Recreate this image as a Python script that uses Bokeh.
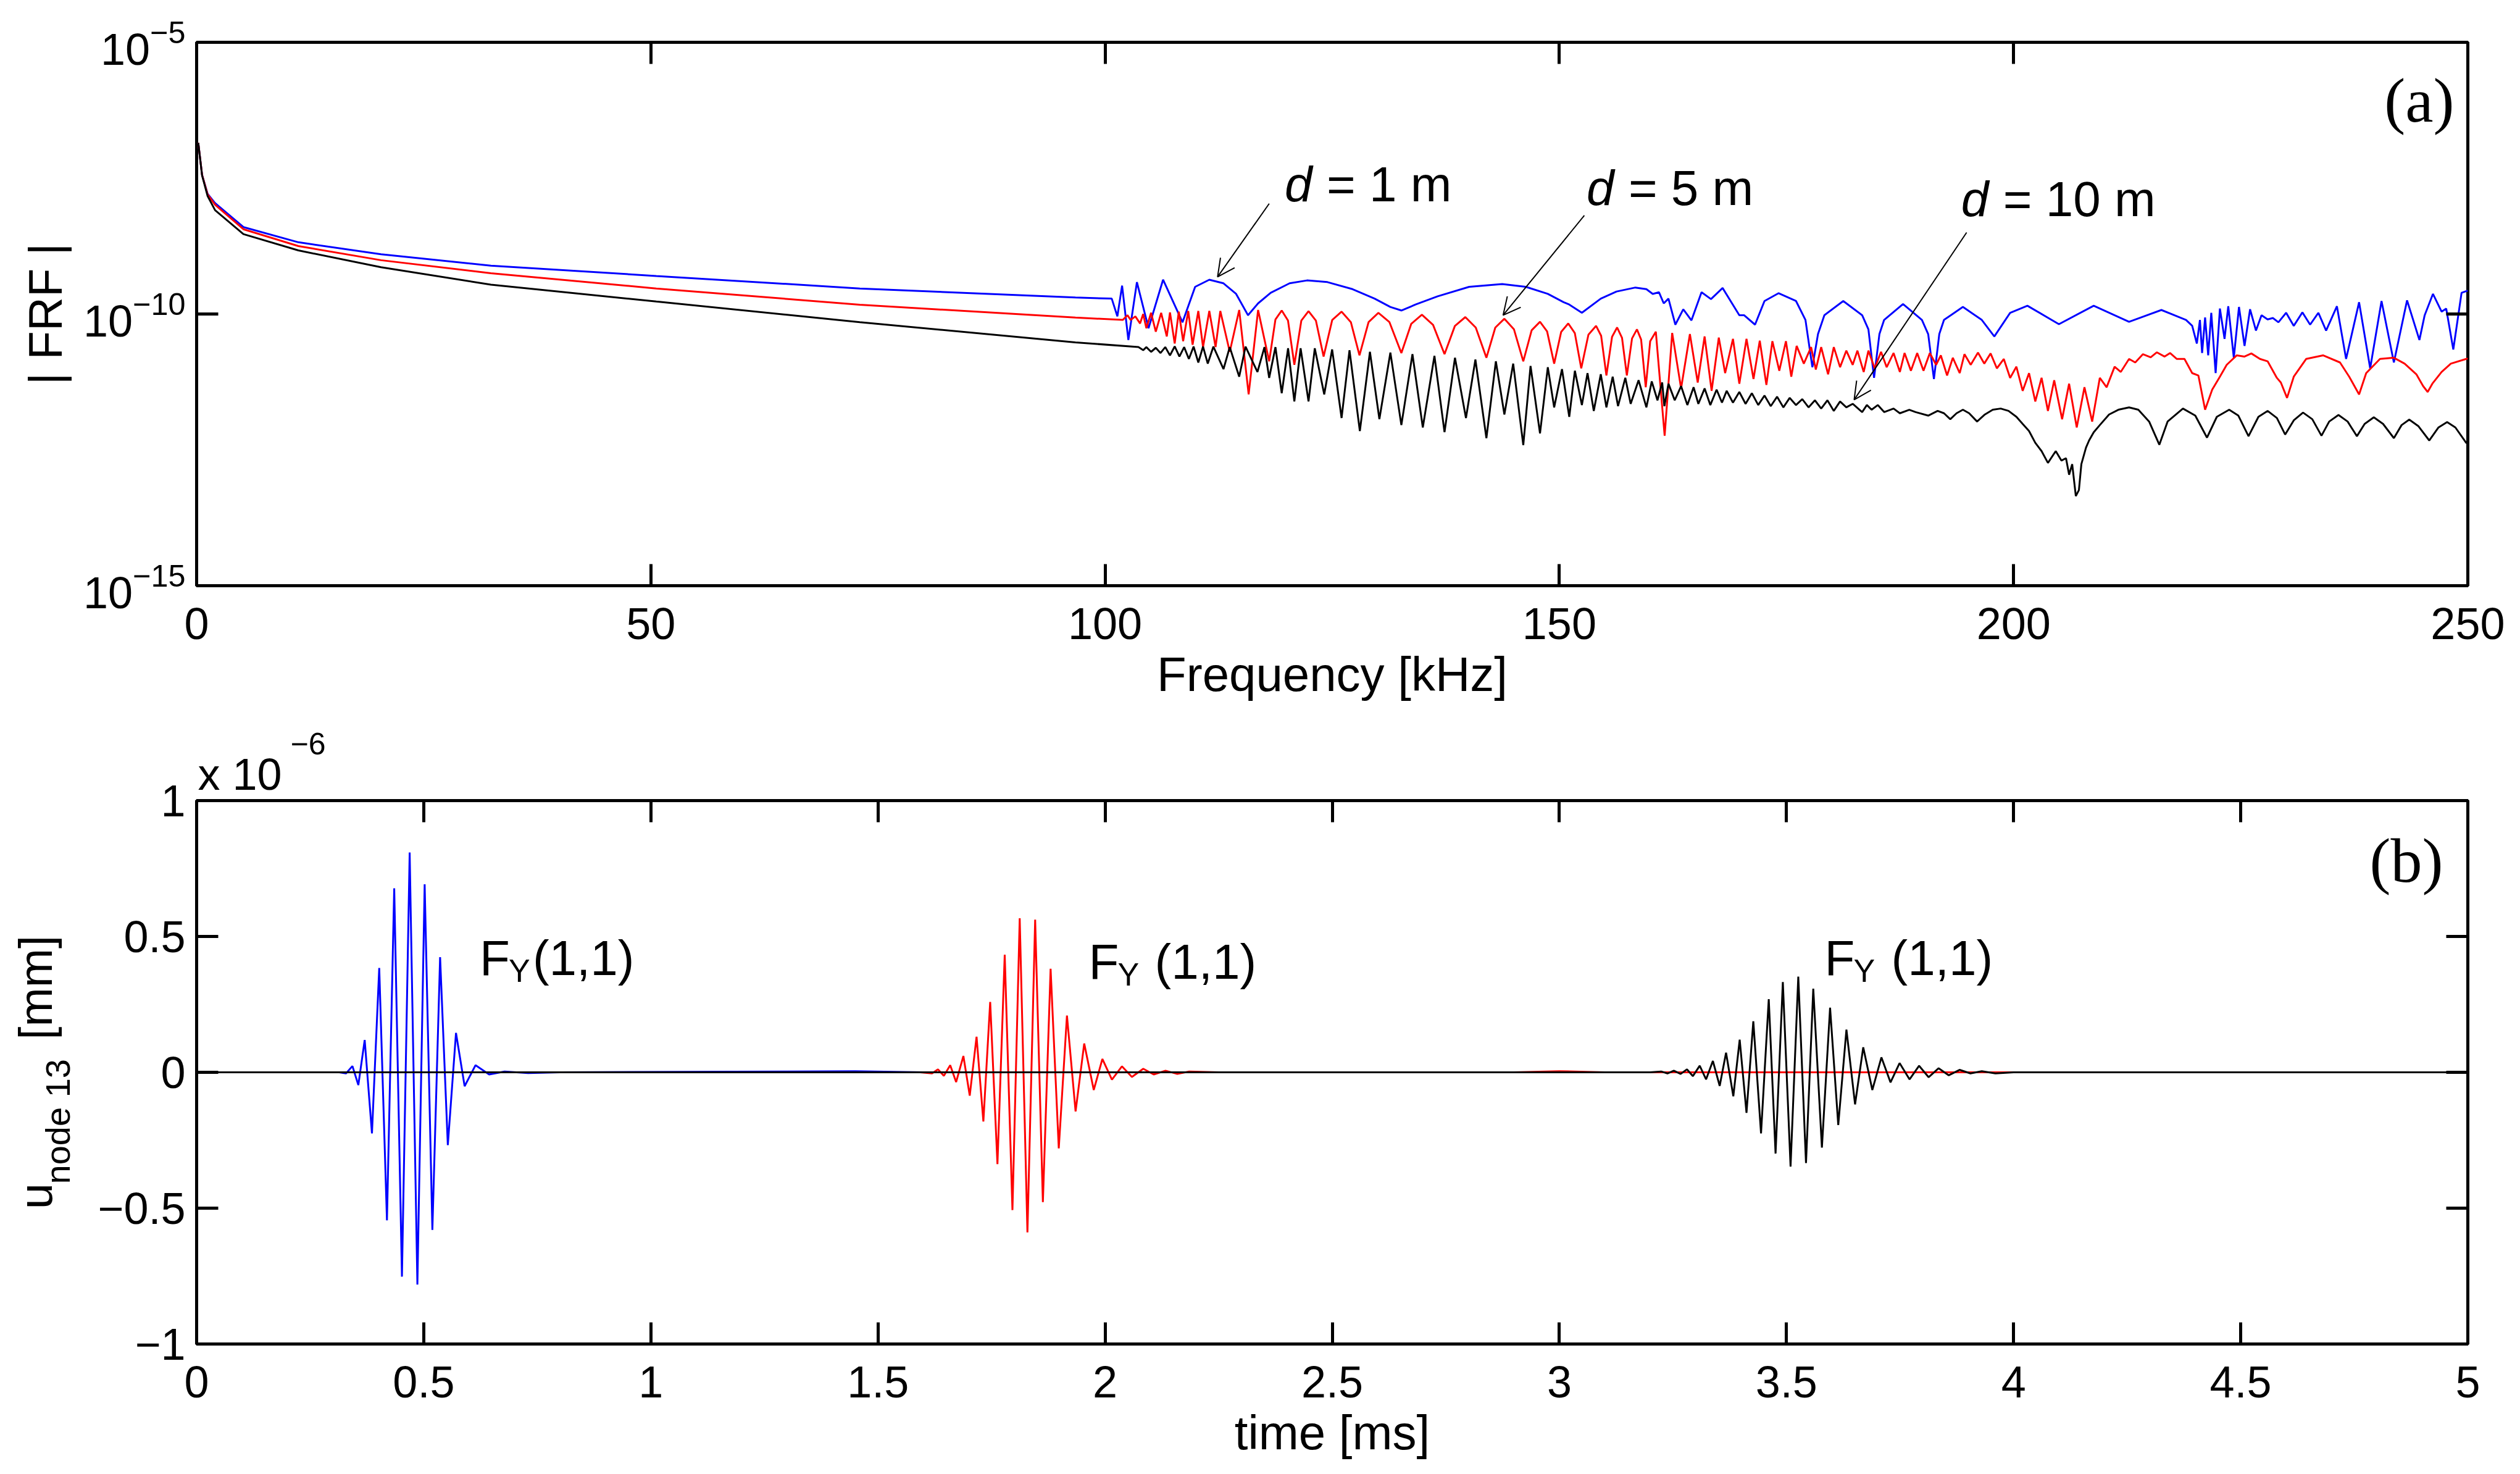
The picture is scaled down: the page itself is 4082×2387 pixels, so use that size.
import math

from bokeh.models import (Range1d, FixedTicker, LogAxis, LinearAxis, Label, Arrow, Title,
                          OpenHead, CustomJSTickFormatter, ColumnDataSource)
from bokeh.plotting import figure
from bokeh.layouts import column
from bokeh.embed import file_html
from bokeh.resources import INLINE

# ---------------- data ----------------
# (a) |FRF| vs frequency [kHz]; magnitudes stored as log10 values
blue_f = [0.18, 0.6, 1.21, 2.03, 5.15, 11.2, 20.3, 32.4, 50.6, 73.0, 96.74, 100.73,
          101.35, 101.87, 102.56, 103.50, 104.78, 106.38, 108.52, 109.91, 111.47, 113.03,
          114.42, 115.73, 116.84, 118.23, 120.31, 122.22, 124.47, 127.24, 129.67, 131.4,
          132.61, 134.17, 136.6, 140.07, 143.71, 146.31, 148.73, 150.47, 151.09, 152.48,
          154.56, 156.29, 158.37, 159.58, 160.28, 160.97, 161.49, 162.01, 162.77, 163.64,
          164.54, 165.65, 166.69, 167.97, 169.81, 170.33, 171.54, 172.58, 174.14, 176.05,
          177.09, 177.85, 178.47, 179.17, 181.25, 183.33, 184.02, 184.64, 185.23, 185.75,
          187.83, 189.91, 190.6, 191.23, 191.82, 192.34, 194.42, 196.50, 197.88, 199.62,
          201.52, 204.99, 208.82, 212.71, 216.27, 218.98, 219.66, 220.17, 220.51, 220.75,
          221.08, 221.42, 221.76, 222.24, 222.71, 223.22, 223.63, 224.24, 224.81, 225.42,
          226.03, 226.68, 227.29, 227.96, 228.54, 229.15, 230.00, 230.84, 231.79, 232.64,
          233.55, 234.40, 235.59, 236.60, 238.03, 239.25, 240.50, 241.86, 243.31, 244.67,
          245.25, 246.16, 247.11, 247.62, 248.40, 249.31, 250.0]
blue_log = [-6.85, -7.44, -7.79, -7.96, -8.40, -8.68, -8.90, -9.11, -9.30, -9.53, -9.696,
            -9.717, -10.044, -9.478, -10.479, -9.413, -10.261, -9.369, -10.152, -9.500,
            -9.369, -9.435, -9.630, -10.022, -9.804, -9.609, -9.435, -9.382, -9.413, -9.543,
            -9.717, -9.870, -9.935, -9.826, -9.674, -9.500, -9.448, -9.500, -9.630, -9.783,
            -9.826, -9.978, -9.717, -9.587, -9.513, -9.543, -9.630, -9.600, -9.804, -9.717,
            -10.196, -9.913, -10.117, -9.600, -9.726, -9.521, -10.022, -10.022, -10.196,
            -9.761, -9.617, -9.761, -10.109, -10.979, -10.37, -10.022, -9.761, -10.022,
            -10.283, -11.175, -10.37, -10.109, -9.817, -10.109, -10.37, -11.196, -10.37,
            -10.109, -9.870, -10.109, -10.413, -9.978, -9.848, -10.187, -9.848, -10.144,
            -9.926, -10.109, -10.218, -10.544, -10.109, -10.718, -10.065, -10.761, -9.978,
            -11.088, -9.900, -10.457, -9.857, -10.805, -9.870, -10.587, -9.913, -10.305,
            -10.022, -10.100, -10.074, -10.152, -9.978, -10.218, -9.970, -10.196, -9.978,
            -10.305, -9.857, -10.827, -9.783, -11.000, -9.761, -10.892, -9.748, -10.479,
            -10.022, -9.630, -9.957, -9.900, -10.653, -9.609, -9.57]

red_f = [0.18, 0.6, 1.21, 2.03, 5.15, 11.2, 20.3, 32.4, 50.6, 73.0, 96.74, 101.94, 102.46,
         102.81, 103.33, 103.85, 104.19, 104.54, 105.06, 105.58, 106.17, 106.79, 107.14,
         107.66, 108.11, 108.59, 109.15, 109.63, 110.26, 110.78, 111.47, 112.16, 112.68,
         113.72, 114.76, 115.80, 116.84, 118.06, 118.75, 119.44, 120.13, 120.83, 121.6,
         122.39, 123.2, 124.05, 125.0, 126.03, 127.05, 128.00, 129.0, 130.08, 131.3,
         132.61, 133.7, 134.87, 136.1, 137.36, 138.5, 139.65, 140.8, 141.97, 142.95,
         143.95, 145.0, 146.03, 146.95, 147.87, 148.65, 149.43, 150.2, 150.98, 151.7,
         152.41, 153.2, 154.04, 154.6, 155.18, 155.8, 156.36, 156.9, 157.43, 158.0,
         158.54, 159.0, 159.51, 160.0, 160.62, 161.59, 162.42, 163.40, 164.37, 165.23,
         165.99, 166.76, 167.55, 168.25, 169.11, 169.81, 170.60, 171.37, 172.06, 172.79,
         173.45, 174.21, 174.94, 175.53, 176.12, 176.91, 177.71, 178.23, 178.82, 179.58,
         180.21, 180.90, 181.59, 182.29, 182.81, 183.50, 184.02, 184.71, 185.41, 186.03,
         186.79, 187.48, 188.00, 188.70, 189.39, 190.08, 190.78, 191.47, 191.99, 192.68,
         193.31, 194.07, 194.59, 195.28, 196.08, 196.77, 197.47, 198.16, 198.92, 199.62,
         200.31, 201.00, 201.70, 202.39, 203.08, 203.78, 204.47, 205.34, 206.11, 206.95,
         207.80, 208.65, 209.49, 210.24, 211.12, 211.80, 212.71, 213.39, 214.24, 215.09,
         215.76, 216.61, 217.22, 217.97, 218.81, 219.66, 220.34, 221.08, 221.86, 222.71,
         223.46, 224.57, 225.42, 226.17, 227.12, 227.96, 228.98, 229.42, 230.10, 230.84,
         232.20, 234.06, 235.93, 236.94, 238.03, 238.81, 240.33, 241.86, 243.04, 244.33,
         245.08, 245.58, 246.09, 247.11, 248.13, 249.82, 250.0]
red_log = [-6.85, -7.44, -7.80, -7.99, -8.44, -8.75, -9.01, -9.25, -9.53, -9.83, -10.065,
           -10.109, -10.022, -10.109, -10.044, -10.174, -10.000, -10.261, -9.978, -10.326,
           -9.978, -10.413, -9.970, -10.544, -9.957, -10.500, -9.944, -10.566, -9.944,
           -10.609, -9.944, -10.609, -9.944, -10.696, -9.926, -11.479, -9.926, -10.870,
           -10.10, -9.935, -10.12, -10.935, -10.12, -9.948, -10.12, -10.783, -10.11, -9.957,
           -10.15, -10.761, -10.15, -9.978, -10.15, -10.718, -10.18, -10.013, -10.20,
           -10.739, -10.22, -10.057, -10.25, -10.805, -10.25, -10.087, -10.28, -10.870,
           -10.30, -10.144, -10.32, -10.913, -10.33, -10.174, -10.35, -11.000, -10.38,
           -10.218, -10.40, -11.131, -10.42, -10.248, -10.44, -11.131, -10.45, -10.283,
           -10.47, -11.348, -10.50, -10.326, -12.240, -10.348, -11.370, -10.370, -11.262,
           -10.413, -11.414, -10.435, -11.088, -10.457, -11.283, -10.457, -11.196, -10.492,
           -11.305, -10.500, -11.044, -10.500, -11.153, -10.587, -10.913, -10.609, -11.022,
           -10.609, -11.109, -10.609, -10.979, -10.674, -10.935, -10.674, -11.066, -10.674,
           -11.000, -10.696, -10.979, -10.718, -11.066, -10.718, -11.044, -10.718, -11.044,
           -10.718, -10.935, -10.761, -11.131, -10.805, -11.088, -10.739, -10.935, -10.709,
           -10.913, -10.726, -11.000, -10.827, -11.175, -10.970, -11.414, -11.088, -11.609,
           -11.175, -11.783, -11.218, -11.936, -11.283, -12.088, -11.348, -11.979, -11.175,
           -11.348, -10.970, -11.066, -10.827, -10.892, -10.739, -10.796, -10.705, -10.783,
           -10.718, -10.827, -10.827, -11.088, -11.131, -11.762, -11.392, -11.153, -10.935,
           -10.761, -10.783, -10.726, -10.827, -10.870, -11.175, -11.262, -11.544, -11.153,
           -10.827, -10.761, -10.892, -11.153, -11.479, -11.088, -10.827, -10.805, -10.913,
           -11.109, -11.327, -11.435, -11.283, -11.066, -10.913, -10.827, -10.82]

black_f = [0.18, 0.6, 1.21, 2.03, 5.15, 11.2, 20.3, 32.4, 50.6, 73.0, 96.74, 103.67, 104.19,
           104.54, 105.06, 105.58, 106.10, 106.62, 107.14, 107.66, 108.18, 108.70, 109.22,
           109.74, 110.26, 110.78, 111.30, 111.92, 113.03, 113.72, 114.76, 115.46, 116.77,
           117.54, 118.06, 118.75, 119.44, 120.14, 120.83, 121.52, 122.39, 123.08, 124.12,
           124.99, 126.03, 126.90, 128.04, 129.15, 130.19, 131.40, 132.61, 133.83, 134.97,
           136.25, 137.36, 138.51, 139.72, 140.76, 141.97, 143.01, 143.95, 144.92, 146.03,
           146.83, 147.87, 148.73, 149.43, 150.29, 151.09, 151.71, 152.48, 153.10, 153.79,
           154.56, 155.18, 155.87, 156.46, 157.26, 157.85, 158.72, 159.58, 160.17, 160.80,
           161.32, 161.56, 162.01, 162.70, 163.40, 164.09, 164.78, 165.30, 165.99, 166.62,
           167.31, 167.90, 168.42, 169.11, 169.81, 170.50, 171.19, 171.89, 172.58, 173.27,
           173.97, 174.66, 175.35, 176.05, 176.74, 177.43, 178.13, 178.82, 179.51, 180.21,
           180.90, 181.59, 182.29, 183.33, 183.85, 184.37, 185.06, 185.75, 186.79, 187.48,
           188.52, 189.22, 190.60, 191.64, 192.34, 193.03, 193.72, 194.42, 195.11, 195.98,
           196.84, 197.71, 198.58, 199.44, 200.31, 201.00, 201.70, 202.39, 203.08, 203.78,
           204.64, 205.26, 205.77, 206.11, 206.45, 206.85, 207.19, 207.46, 207.97, 208.31,
           208.82, 209.49, 210.51, 211.53, 212.71, 213.73, 214.92, 216.04, 216.95, 218.64,
           220.00, 221.29, 222.37, 223.73, 224.74, 225.86, 226.95, 227.96, 228.98, 229.89,
           230.84, 231.86, 232.88, 233.89, 234.74, 235.76, 236.77, 237.79, 238.64, 239.65,
           240.67, 241.86, 242.71, 243.55, 244.57, 245.75, 246.77, 247.72, 248.63, 249.82,
           250.0]
black_log = [-6.85, -7.45, -7.83, -8.09, -8.53, -8.83, -9.14, -9.46, -9.77, -10.15, -10.522,
             -10.609, -10.666, -10.609, -10.696, -10.622, -10.718, -10.609, -10.761, -10.596,
             -10.783, -10.609, -10.827, -10.600, -10.892, -10.600, -10.913, -10.600, -11.014,
             -10.609, -11.153, -10.600, -11.066, -10.609, -11.175, -10.609, -11.457, -10.631,
             -11.609, -10.631, -11.609, -10.631, -11.479, -10.652, -11.914, -10.666, -12.153,
             -10.696, -11.935, -10.709, -12.044, -10.739, -12.088, -10.770, -12.175, -10.805,
             -11.914, -10.839, -12.284, -10.870, -11.849, -10.913, -12.414, -10.957, -12.197,
             -10.979, -11.718, -11.014, -11.892, -11.044, -11.675, -11.088, -11.783, -11.109,
             -11.718, -11.153, -11.696, -11.175, -11.653, -11.218, -11.718, -11.240, -11.588,
             -11.261, -11.696, -11.283, -11.588, -11.327, -11.675, -11.348, -11.653, -11.370,
             -11.675, -11.392, -11.631, -11.414, -11.631, -11.435, -11.653, -11.457, -11.675,
             -11.501, -11.696, -11.522, -11.718, -11.544, -11.675, -11.566, -11.718, -11.588,
             -11.740, -11.588, -11.783, -11.609, -11.718, -11.653, -11.805, -11.675, -11.762,
             -11.675, -11.805, -11.740, -11.827, -11.762, -11.805, -11.870, -11.783, -11.827,
             -11.936, -11.827, -11.762, -11.827, -11.979, -11.849, -11.762, -11.740, -11.783,
             -11.892, -12.023, -12.153, -12.371, -12.523, -12.740, -12.523, -12.697, -12.653,
             -12.958, -12.762, -13.349, -13.240, -12.762, -12.458, -12.327, -12.175, -12.044,
             -11.849, -11.762, -11.718, -11.762, -11.979, -12.405, -11.979, -11.740, -11.870,
             -12.275, -11.892, -11.762, -11.870, -12.249, -11.892, -11.783, -11.914, -12.218,
             -11.957, -11.814, -11.936, -12.240, -11.979, -11.857, -11.979, -12.249, -12.023,
             -11.901, -12.023, -12.284, -12.044, -11.944, -12.066, -12.327, -12.088, -11.988,
             -12.088, -12.371, -12.38]

# (b) displacement vs time [ms], values in units of 1e-6 mm
blue_t = [0.0, 0.314, 0.329, 0.343, 0.356, 0.370, 0.386, 0.402, 0.419, 0.435, 0.452,
          0.469, 0.486, 0.502, 0.519, 0.536, 0.553, 0.571, 0.590, 0.614, 0.644, 0.678,
          0.730, 0.800, 1.300, 1.450, 1.600, 5.0]
blue_u = [0.0, 0.0, -0.004, 0.023, -0.047, 0.119, -0.225, 0.384, -0.545, 0.677, -0.752,
          0.809, -0.781, 0.692, -0.580, 0.424, -0.268, 0.145, -0.051, 0.026, -0.008,
          0.003, -0.003, 0.0, 0.003, 0.004, 0.0, 0.0]

red_t = [0.0, 1.593, 1.619, 1.632, 1.645, 1.659, 1.672, 1.688, 1.702, 1.717, 1.732, 1.747,
         1.763, 1.779, 1.796, 1.812, 1.829, 1.846, 1.863, 1.880, 1.898, 1.916, 1.935,
         1.954, 1.975, 1.994, 2.015, 2.037, 2.059, 2.084, 2.107, 2.133, 2.159, 2.185,
         2.250, 2.900, 3.000, 3.100, 5.0]
red_u = [0.0, 0.0, -0.004, 0.011, -0.013, 0.026, -0.036, 0.060, -0.086, 0.131, -0.181,
         0.259, -0.338, 0.433, -0.507, 0.567, -0.589, 0.562, -0.478, 0.381, -0.280,
         0.209, -0.144, 0.106, -0.065, 0.049, -0.027, 0.022, -0.017, 0.013, -0.008,
         0.006, -0.006, 0.003, 0.0, 0.0, 0.004, 0.0, 0.0]

black_t = [0.0, 3.200, 3.224, 3.238, 3.252, 3.267, 3.281, 3.294, 3.309, 3.323, 3.338,
           3.353, 3.367, 3.383, 3.397, 3.412, 3.427, 3.444, 3.461, 3.476, 3.492, 3.509,
           3.526, 3.543, 3.559, 3.578, 3.596, 3.614, 3.632, 3.651, 3.669, 3.689, 3.709,
           3.729, 3.749, 3.771, 3.792, 3.813, 3.835, 3.857, 3.881, 3.905, 3.930, 3.960,
           4.000, 5.0]
black_u = [0.0, 0.0, 0.003, -0.004, 0.006, -0.006, 0.011, -0.014, 0.024, -0.026, 0.042,
           -0.050, 0.072, -0.088, 0.120, -0.149, 0.188, -0.225, 0.269, -0.299, 0.332,
           -0.347, 0.352, -0.334, 0.308, -0.277, 0.238, -0.194, 0.157, -0.118, 0.092,
           -0.065, 0.055, -0.037, 0.034, -0.026, 0.024, -0.018, 0.015, -0.011, 0.009,
           -0.004, 0.004, -0.004, 0.0, 0.0]

# annotations
d_texts = ["= 1 m", "= 5 m", "= 10 m"]
d_text_f = [119.77, 152.99, 194.23]
d_text_log = [-7.886, -7.955, -8.159]
arrow_tail_f = [118.06, 152.75, 194.83]
arrow_tail_log = [-7.969, -8.186, -8.50]
arrow_head_f = [112.38, 143.81, 182.45]
arrow_head_log = [-9.317, -10.022, -11.578]

fy_t = [0.623, 1.964, 3.584]
fy_u = [0.365, 0.352, 0.365]
fy_paren_gap = [86, 107, 108]

freq_ticks = [0, 50, 100, 150, 200, 250]
frf_ticks = [1e-15, 1e-10, 1e-5]
time_ticks = [0, 0.5, 1, 1.5, 2, 2.5, 3, 3.5, 4, 4.5, 5]
u_ticks = [-1, -0.5, 0, 0.5, 1]

FONT = "Liberation Sans"
SERIF = "Liberation Serif"
NBSP = "\u00a0"

num_fmt = CustomJSTickFormatter(code="return String(tick).replace('-', '\u2212')")
no_fmt = CustomJSTickFormatter(code="return ''")


def style_axis(ax, show_labels):
    ax.axis_line_color = None
    ax.major_tick_in = 35
    ax.major_tick_out = 0
    ax.major_tick_line_width = 5
    ax.major_tick_line_color = "black"
    ax.minor_tick_line_color = None
    ax.major_label_text_font = FONT
    ax.major_label_text_color = "black"
    ax.axis_label_text_font = FONT
    ax.axis_label_text_font_style = "normal"
    ax.axis_label_text_color = "black"
    if show_labels:
        ax.major_label_text_font_size = "72px"
    else:
        ax.formatter = no_fmt
        ax.major_label_text_font_size = "2px"
        ax.major_label_standoff = 0


def side_title(text, size, **kw):
    return Title(text=text, text_font=FONT, text_font_size=size, text_font_style="normal",
                 text_color="black", **kw)


def lbl(p, x, y, text, size, **kw):
    # labels inside the frame; alphabetic baseline lifted by ~0.3 em
    kw.setdefault("text_font", FONT)
    px = float(size.replace("px", ""))
    kw["y_offset"] = kw.get("y_offset", 0) + 0.3 * px
    p.add_layout(Label(x=x, y=y, text=text, text_font_size=size, text_color="black",
                       text_baseline="alphabetic", **kw))


# ---------------- (a) FRF ----------------
p1 = figure(width=4057, height=1148, y_axis_type="log",
            x_range=Range1d(0, 250), y_range=Range1d(1e-15, 1e-5),
            output_backend="svg", toolbar_location=None,
            min_border_left=318, min_border_right=60, min_border_top=68,
            min_border_bottom=200)
p1.xgrid.visible = False
p1.ygrid.visible = False
p1.outline_line_color = "black"
p1.outline_line_width = 5
p1.background_fill_color = "white"
p1.border_fill_color = "white"

p1.xaxis.ticker = FixedTicker(ticks=freq_ticks)
p1.xaxis.formatter = num_fmt
p1.xaxis.major_label_standoff = 36
style_axis(p1.xaxis[0], True)
p1.xaxis.axis_label = "Frequency [kHz]"
p1.xaxis.axis_label_text_font_size = "78px"
p1.xaxis.axis_label_standoff = 10

p1.yaxis.ticker = FixedTicker(ticks=frf_ticks)
style_axis(p1.yaxis[0], True)
p1.yaxis.major_label_standoff = 18
p1.yaxis.axis_label = "| FRF |"
p1.yaxis.axis_label_text_font_size = "76px"
p1.yaxis.axis_label_standoff = 16

top1 = LinearAxis(ticker=FixedTicker(ticks=freq_ticks))
style_axis(top1, False)
p1.add_layout(top1, "above")
right1 = LogAxis(ticker=FixedTicker(ticks=frf_ticks))
style_axis(right1, False)
p1.add_layout(right1, "right")

for f, lg, c in [(blue_f, blue_log, "#0000ff"), (red_f, red_log, "#ff0000"),
                 (black_f, black_log, "black")]:
    src = ColumnDataSource(dict(f=f, v=[10 ** v for v in lg]))
    p1.line("f", "v", source=src, line_color=c, line_width=3)

lbl(p1, 250, 1e-5, "(a)", "102px", x_offset=-22, y_offset=-125, text_align="right",
    text_font=SERIF)

for txt, tf, tl in zip(d_texts, d_text_f, d_text_log):
    lbl(p1, tf, 10 ** tl, "d", "80px", text_font_style="italic")
    lbl(p1, tf, 10 ** tl, txt, "80px", x_offset=68)

for xs, ys, xe, ye in zip(arrow_tail_f, arrow_tail_log, arrow_head_f, arrow_head_log):
    p1.add_layout(Arrow(end=OpenHead(size=28, line_width=2, line_color="black"),
                        x_start=xs, y_start=10 ** ys, x_end=xe, y_end=10 ** ye,
                        line_width=2, line_color="black"))

# ---------------- (b) time signals ----------------
p2 = figure(width=4057, height=1221,
            x_range=Range1d(0, 5), y_range=Range1d(-1, 1),
            output_backend="svg", toolbar_location=None,
            min_border_left=318, min_border_right=60, min_border_top=148,
            min_border_bottom=193)
p2.xgrid.visible = False
p2.ygrid.visible = False
p2.outline_line_color = "black"
p2.outline_line_width = 5
p2.background_fill_color = "white"
p2.border_fill_color = "white"
p2.title.visible = False

p2.xaxis.ticker = FixedTicker(ticks=time_ticks)
p2.xaxis.formatter = num_fmt
p2.xaxis.major_label_standoff = 36
style_axis(p2.xaxis[0], True)
p2.xaxis.axis_label = "time [ms]"
p2.xaxis.axis_label_text_font_size = "78px"
p2.xaxis.axis_label_standoff = 10

p2.yaxis.ticker = FixedTicker(ticks=u_ticks)
p2.yaxis.formatter = num_fmt
style_axis(p2.yaxis[0], True)
p2.yaxis.major_label_standoff = 18

# y label: subscript "node 13" next to the tick labels, then "u ... [mm]" outside it
p2.add_layout(side_title("node 13", "56px", align="left", offset=259, standoff=62), "left")
p2.add_layout(side_title("u" + NBSP * 11 + "[mm]", "76px", align="center",
                         standoff=-142), "left")

top2 = LinearAxis(ticker=FixedTicker(ticks=time_ticks))
style_axis(top2, False)
p2.add_layout(top2, "above")
# axis multiplier "x 10^-6" above the top-left corner
p2.add_layout(side_title("x 10", "72px", align="left", offset=2, standoff=5), "above")
p2.add_layout(side_title("\u22126", "50px", align="left", offset=152, standoff=-24),
              "above")

right2 = LinearAxis(ticker=FixedTicker(ticks=u_ticks))
style_axis(right2, False)
p2.add_layout(right2, "right")

for t, u, c in [(blue_t, blue_u, "#0000ff"), (red_t, red_u, "#ff0000"),
                (black_t, black_u, "black")]:
    p2.line(t, u, line_color=c, line_width=3)

lbl(p2, 5, 1, "(b)", "102px", x_offset=-40, y_offset=-128, text_align="right",
    text_font=SERIF)

for t, u, gap in zip(fy_t, fy_u, fy_paren_gap):
    lbl(p2, t, u, "F", "80px")
    lbl(p2, t, u, "Y", "52px", x_offset=47, y_offset=-12)
    lbl(p2, t, u, "(1,1)", "80px", x_offset=gap)

layout = column(p1, p2)
open("out.html", "w").write(file_html(layout, INLINE))
